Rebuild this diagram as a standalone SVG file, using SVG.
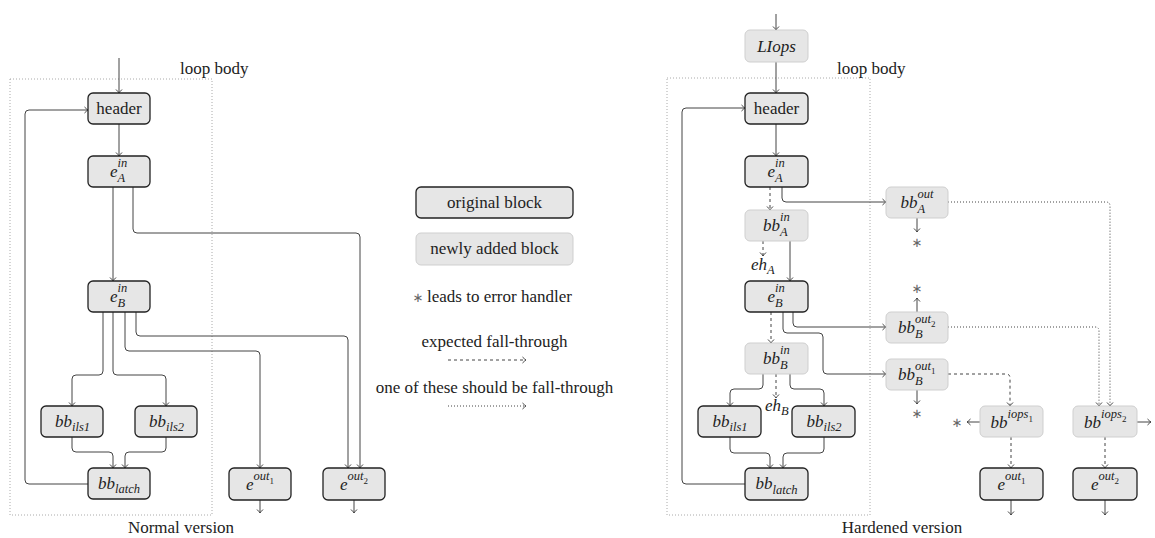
<svg xmlns="http://www.w3.org/2000/svg" width="1155" height="538" viewBox="0 0 1155 538">
  <style>
    .t { font-family: "Liberation Serif", serif; font-size: 17px; fill: #222; }
    .m { font-family: "Liberation Serif", serif; font-style: italic; font-size: 17px; fill: #222; }
    .s { font-family: "Liberation Serif", serif; font-style: italic; font-size: 12.5px; fill: #222; }
    .ss { font-family: "Liberation Serif", serif; font-size: 9px; fill: #222; }
    .ast { font-family: "DejaVu Sans", sans-serif; font-size: 13px; fill: #666; text-anchor: middle; }
    .mid { text-anchor: middle; }
    .orig { fill: #e6e6e6; stroke: #222; stroke-width: 1.3; }
    .new { fill: #e6e6e6; stroke: #cfcfcf; stroke-width: 1; }
    .frame { fill: none; stroke: #aaa; stroke-width: 1; stroke-dasharray: 1 2; }
    .e { fill: none; stroke: #444; stroke-width: 1; marker-end: url(#ah); }
    .dash { stroke-dasharray: 3 3; }
    .dot { stroke-dasharray: 1 2; }
  </style>
  <defs>
    <marker id="ah" viewBox="-5 -4 6 8" refX="0" refY="0" markerWidth="6" markerHeight="8" markerUnits="userSpaceOnUse" orient="auto">
      <path d="M-3.5,-3 Q-1,-0.5 0,0 Q-1,0.5 -3.5,3" fill="none" stroke="#444" stroke-width="1"/>
    </marker>
  </defs>
  <rect width="1155" height="538" fill="#fff"/>

  <!-- ===== Normal version ===== -->
  <g id="normal-frame">
    <rect class="frame" x="10" y="79" width="202" height="436"/>
    <text class="t" x="180" y="74">loop body</text>
    <text class="t mid" x="181" y="533">Normal version</text>
  </g>

  <g id="normal-connectors">
    <path class="e" d="M119 58 V93"/>
    <path class="e" d="M119 124 V156"/>
    <path class="e" d="M113 187 V281"/>
    <path class="e" d="M133 187 V229 Q133 233 137 233 H356 Q360 233 360 237 V468"/>
    <path class="e" d="M103 312 V371 Q103 375 99 375 H76 Q72 375 72 379 V406"/>
    <path class="e" d="M113 312 V371 Q113 375 117 375 H162 Q166 375 166 379 V406"/>
    <path class="e" d="M125 312 V347 Q125 351 129 351 H256 Q260 351 260 355 V468"/>
    <path class="e" d="M136 312 V332 Q136 336 140 336 H344 Q348 336 348 340 V468"/>
    <path class="e" d="M72 437 V448 Q72 452 76 452 H109 Q113 452 113 456 V468"/>
    <path class="e" d="M166 437 V448 Q166 452 162 452 H129 Q125 452 125 456 V468"/>
    <path class="e" d="M88 484 H29 Q25 484 25 480 V114 Q25 110 29 110 H88"/>
    <path class="e" d="M260 500 V513"/>
    <path class="e" d="M354 500 V513"/>
  </g>

  <g id="n-header">
    <rect class="orig" x="88" y="93" width="62" height="31" rx="5"/>
    <text class="t mid" x="119" y="114">header</text>
  </g>
  <g id="n-eA">
    <rect class="orig" x="88" y="156" width="62" height="31" rx="5"/>
    <text class="m" x="110" y="177">e</text><text class="s" x="117.5" y="167">in</text><text class="s" x="117.5" y="182">A</text>
  </g>
  <g id="n-eB">
    <rect class="orig" x="88" y="281" width="62" height="31" rx="5"/>
    <text class="m" x="110" y="302">e</text><text class="s" x="117.5" y="292">in</text><text class="s" x="117.5" y="307">B</text>
  </g>
  <g id="n-ils1">
    <rect class="orig" x="41" y="406" width="62" height="31" rx="5"/>
    <text class="m" x="55" y="426.5">bb</text><text class="s" x="72" y="431">ils1</text>
  </g>
  <g id="n-ils2">
    <rect class="orig" x="135" y="406" width="62" height="31" rx="5"/>
    <text class="m" x="149" y="426.5">bb</text><text class="s" x="166" y="431">ils2</text>
  </g>
  <g id="n-latch">
    <rect class="orig" x="88" y="468" width="62" height="31" rx="5"/>
    <text class="m" x="98" y="488.5">bb</text><text class="s" x="115" y="493">latch</text>
  </g>
  <g id="n-eout1">
    <rect class="orig" x="229" y="468" width="62" height="32" rx="5"/>
    <text class="m" x="246" y="489.5">e</text><text class="s" x="253.5" y="480">out</text><text class="ss" x="269.5" y="483.5">1</text>
  </g>
  <g id="n-eout2">
    <rect class="orig" x="323" y="468" width="62" height="32" rx="5"/>
    <text class="m" x="340" y="489.5">e</text><text class="s" x="347.5" y="480">out</text><text class="ss" x="363.5" y="483.5">2</text>
  </g>

  <!-- ===== Legend ===== -->
  <g id="legend-original">
    <rect class="orig" x="416" y="187" width="157" height="31" rx="5"/>
    <text class="t mid" x="494.5" y="208">original block</text>
  </g>
  <g id="legend-new">
    <rect class="new" x="416" y="233" width="157" height="32" rx="5"/>
    <text class="t mid" x="494.5" y="254">newly added block</text>
  </g>
  <g id="legend-error">
    <text class="ast" x="418" y="302">∗</text>
    <text class="t" x="427" y="302">leads to error handler</text>
  </g>
  <g id="legend-fallthrough">
    <text class="t mid" x="494.5" y="347">expected fall-through</text>
    <path class="e dash" d="M448 360 H526"/>
  </g>
  <g id="legend-either">
    <text class="t mid" x="494.5" y="393">one of these should be fall-through</text>
    <path class="e dot" d="M448 406 H526"/>
  </g>

  <!-- ===== Hardened version ===== -->
  <g id="hardened-frame">
    <rect class="frame" x="667" y="78" width="203" height="437"/>
    <text class="t" x="837" y="74">loop body</text>
    <text class="t mid" x="902" y="533">Hardened version</text>
  </g>

  <g id="hardened-connectors">
    <path class="e" d="M776 14 V30"/>
    <path class="e" d="M776 62 V93"/>
    <path class="e" d="M776 124 V156"/>
    <path class="e dash" d="M770 187 V210"/>
    <path class="e" d="M782 187 V198 Q782 202 786 202 H886"/>
    <path class="e dash" d="M763 241 V256"/>
    <path class="e" d="M790 241 V281"/>
    <path class="e dash" d="M771 312 V343"/>
    <path class="e" d="M783 312 V329 Q783 333 787 333 H819 Q823 333 823 337 V370 Q823 374 827 374 H886"/>
    <path class="e" d="M793 312 V323 Q793 327 797 327 H886"/>
    <path class="e" d="M763 374 V385 Q763 389 759 389 H734 Q730 389 730 393 V406"/>
    <path class="e" d="M790 374 V385 Q790 389 794 389 H820 Q824 389 824 393 V406"/>
    <path class="e dash" d="M776 374 V398"/>
    <path class="e" d="M730 437 V449 Q730 453 734 453 H766 Q770 453 770 457 V468"/>
    <path class="e" d="M824 437 V449 Q824 453 820 453 H787 Q783 453 783 457 V468"/>
    <path class="e" d="M745 484 H686 Q682 484 682 480 V112 Q682 108 686 108 H745"/>
    <path class="e" d="M917 218 V232"/>
    <path class="e" d="M917 312 V298"/>
    <path class="e" d="M917 390 V404"/>
    <path class="e dot" d="M948 202 H1106 Q1110 202 1110 206 V406"/>
    <path class="e dot" d="M948 327 H1095 Q1099 327 1099 331 V406"/>
    <path class="e dash" d="M948 374 H1006 Q1010 374 1010 378 V406"/>
    <path class="e" d="M980 422 H967"/>
    <path class="e" d="M1137 422 H1151"/>
    <path class="e dash" d="M1011 437 V468"/>
    <path class="e dash" d="M1105 437 V468"/>
    <path class="e" d="M1011 500 V515"/>
    <path class="e" d="M1105 500 V515"/>
  </g>

  <g id="h-liops">
    <rect class="new" x="745" y="30" width="63" height="32" rx="5"/>
    <text class="m mid" x="776.5" y="51.5">LIops</text>
  </g>
  <g id="h-header">
    <rect class="orig" x="745" y="93" width="63" height="31" rx="5"/>
    <text class="t mid" x="776.5" y="114">header</text>
  </g>
  <g id="h-eA">
    <rect class="orig" x="745" y="156" width="63" height="31" rx="5"/>
    <text class="m" x="767.5" y="177">e</text><text class="s" x="775" y="167">in</text><text class="s" x="775" y="182">A</text>
  </g>
  <g id="h-bbAin">
    <rect class="new" x="745" y="210" width="63" height="31" rx="5"/>
    <text class="m" x="763" y="231">bb</text><text class="s" x="780" y="221">in</text><text class="s" x="780" y="236">A</text>
  </g>
  <g id="h-ehA">
    <text class="m" x="751" y="270">eh</text><text class="s" x="767" y="274">A</text>
  </g>
  <g id="h-eB">
    <rect class="orig" x="745" y="281" width="63" height="31" rx="5"/>
    <text class="m" x="767.5" y="302">e</text><text class="s" x="775" y="292">in</text><text class="s" x="775" y="307">B</text>
  </g>
  <g id="h-bbBin">
    <rect class="new" x="745" y="343" width="63" height="31" rx="5"/>
    <text class="m" x="763" y="364">bb</text><text class="s" x="780" y="354">in</text><text class="s" x="780" y="369">B</text>
  </g>
  <g id="h-ehB">
    <text class="m" x="765" y="411">eh</text><text class="s" x="781" y="415">B</text>
  </g>
  <g id="h-ils1">
    <rect class="orig" x="698" y="406" width="63" height="31" rx="5"/>
    <text class="m" x="712.5" y="426.5">bb</text><text class="s" x="729.5" y="431">ils1</text>
  </g>
  <g id="h-ils2">
    <rect class="orig" x="792" y="406" width="63" height="31" rx="5"/>
    <text class="m" x="806.5" y="426.5">bb</text><text class="s" x="823.5" y="431">ils2</text>
  </g>
  <g id="h-latch">
    <rect class="orig" x="745" y="468" width="63" height="32" rx="5"/>
    <text class="m" x="755.5" y="489">bb</text><text class="s" x="772.5" y="493.5">latch</text>
  </g>
  <g id="h-bbAout">
    <rect class="new" x="886" y="187" width="62" height="31" rx="5"/>
    <text class="m" x="900.5" y="208">bb</text><text class="s" x="917.5" y="198">out</text><text class="s" x="917.5" y="213">A</text>
    <text class="ast" x="917" y="247">∗</text>
  </g>
  <g id="h-bbBout2">
    <rect class="new" x="886" y="312" width="62" height="31" rx="5"/>
    <text class="m" x="898" y="333">bb</text><text class="s" x="915" y="323">out</text><text class="ss" x="931" y="326.5">2</text><text class="s" x="915" y="338">B</text>
    <text class="ast" x="917" y="293">∗</text>
  </g>
  <g id="h-bbBout1">
    <rect class="new" x="886" y="359" width="62" height="31" rx="5"/>
    <text class="m" x="898" y="380">bb</text><text class="s" x="915" y="370">out</text><text class="ss" x="931" y="373.5">1</text><text class="s" x="915" y="385">B</text>
    <text class="ast" x="917" y="418">∗</text>
  </g>
  <g id="h-iops1">
    <rect class="new" x="980" y="406" width="63" height="31" rx="5"/>
    <text class="m" x="990.5" y="427.5">bb</text><text class="s" x="1007.5" y="418">iops</text><text class="ss" x="1028.5" y="421.5">1</text>
    <text class="ast" x="957" y="427">∗</text>
  </g>
  <g id="h-iops2">
    <rect class="new" x="1073" y="406" width="64" height="31" rx="5"/>
    <text class="m" x="1084" y="427.5">bb</text><text class="s" x="1101" y="418">iops</text><text class="ss" x="1122" y="421.5">2</text>
  </g>
  <g id="h-eout1">
    <rect class="orig" x="980" y="468" width="63" height="32" rx="5"/>
    <text class="m" x="997.5" y="489.5">e</text><text class="s" x="1005" y="480">out</text><text class="ss" x="1021" y="483.5">1</text>
  </g>
  <g id="h-eout2">
    <rect class="orig" x="1073" y="468" width="64" height="32" rx="5"/>
    <text class="m" x="1091" y="489.5">e</text><text class="s" x="1098.5" y="480">out</text><text class="ss" x="1114.5" y="483.5">2</text>
  </g>
</svg>
